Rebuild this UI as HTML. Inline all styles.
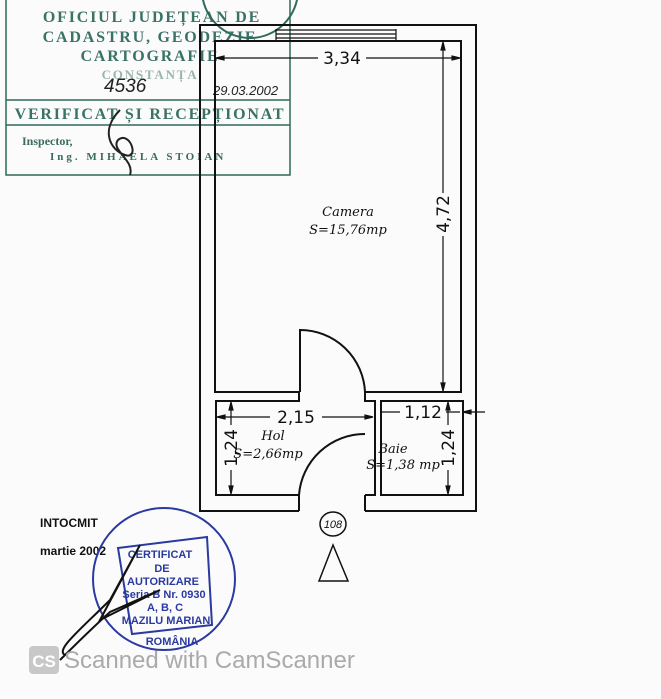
<!DOCTYPE html>
<html><head><meta charset="utf-8"><style>
html,body{margin:0;padding:0;background:#fff;width:661px;height:699px;overflow:hidden}
svg{display:block}
</style></head><body>
<svg width="661" height="699" viewBox="0 0 661 699" xmlns="http://www.w3.org/2000/svg">
<rect width="661" height="699" fill="#fbfbfb"/>
<!-- top-left stamp -->
<g stroke="#2f6a5a" fill="none" stroke-width="1.5">
<path d="M6 0 V175 H290 V0"/>
<path d="M6 100 H290 M6 125 H290"/>
</g>
<g font-family="Liberation Serif, serif" font-weight="bold" fill="#3a7266" text-anchor="middle" font-size="16" letter-spacing="1.8">
<text x="152" y="22">OFICIUL JUDEȚEAN DE</text>
<text x="150" y="42">CADASTRU, GEODEZIE</text>
<text x="150" y="61">CARTOGRAFIE</text>
<text x="150" y="79" font-size="13" opacity="0.5">CONSTANȚA</text>
<text x="150" y="119" font-size="16">VERIFICAT ȘI RECEPȚIONAT</text>
</g>
<text x="22" y="145" font-family="Liberation Serif, serif" font-weight="bold" font-size="12" fill="#3a6a60">Inspector,</text>
<text x="50" y="160" font-family="Liberation Serif, serif" font-weight="bold" font-size="11" fill="#3a6a60" letter-spacing="3">Ing. MIHAELA STOIAN</text>
<text x="104" y="92" font-family="Liberation Sans, sans-serif" font-style="italic" font-size="19" fill="#222">4536</text>
<text x="213" y="95" font-family="Liberation Sans, sans-serif" font-style="italic" font-size="13" fill="#222">29.03.2002</text>
<path d="M120 110 C100 130,110 150,125 155 C140 160,130 130,118 140 C110 150,135 160,130 175" stroke="#222" fill="none" stroke-width="2"/>
<circle cx="250" cy="-10" r="48" stroke="#2f6a5a" fill="none" stroke-width="2"/>
<!-- walls -->
<g stroke="#111" fill="none" stroke-width="2">
<path d="M299 511 H200 V25 H476 V511 H365"/>
<path d="M300 392 H215 V41 H461 V392 H365"/>
<path d="M300 392 V330 A65 65 0 0 1 365 392 V401 H375 V495 H365 M299 495 H216 V401 H299 V392"/>
<path d="M381 401 H463 V495 H381 Z"/>
<path d="M365 434 A66 66 0 0 0 299 495"/>
<path d="M299 495 V511 M365 495 V511"/>
</g>
<g stroke="#111" stroke-width="1.2">
<path d="M276 30 H396 M276 34 H396 M276 38 H396 M276 29 V41 M396 29 V41"/>
</g>
<!-- dimensions -->
<g stroke="#111" stroke-width="1.2" fill="#111">
<path d="M217 58 H318 M366 58 H458"/><path d="M216 58 l8 -2 v4z M460 58 l-8 -2 v4z"/>
<path d="M443 43 V193 M443 236 V390"/><path d="M443 42 l-2 8 h4z M443 391 l-2 -8 h4z"/>
<path d="M218 417 H270 M322 417 H372"/><path d="M217 417 l8 -2 v4z M373 417 l-8 -2 v4z"/>
<path d="M380 412 H400 M446 412 H460 M465 412 H485"/><path d="M463 412 l8 -2 v4z"/>
<path d="M231 403 V425 M231 470 V493"/><path d="M231 402 l-2 8 h4z M231 494 l-2 -8 h4z"/>
<path d="M448 403 V425 M448 470 V493"/><path d="M448 402 l-2 8 h4z M448 494 l-2 -8 h4z"/>
</g>
<g font-family="DejaVu Sans, sans-serif" font-size="17" fill="#111" text-anchor="middle">
<text x="342" y="64">3,34</text>
<text x="296" y="423">2,15</text>
<text x="423" y="418">1,12</text>
<text transform="translate(449 214) rotate(-90)">4,72</text>
<text transform="translate(237 448) rotate(-90)">1,24</text>
<text transform="translate(454 448) rotate(-90)">1,24</text>
</g>
<g font-family="DejaVu Serif, serif" font-style="italic" font-size="13" fill="#111" text-anchor="middle">
<text x="348" y="216">Camera</text>
<text x="348" y="234">S=15,76mp</text>
<text x="273" y="440">Hol</text>
<text x="268" y="458">S=2,66mp</text>
<text x="393" y="453">Baie</text>
<text x="403" y="469">S=1,38 mp</text>
</g>
<!-- marker -->
<ellipse cx="333" cy="524" rx="13" ry="12" stroke="#111" fill="none" stroke-width="1.5"/>
<text x="333" y="528" font-family="Liberation Sans, sans-serif" font-style="italic" font-size="11" text-anchor="middle" fill="#111">108</text>
<path d="M333 545 L319 581 H348 Z" stroke="#111" fill="none" stroke-width="1.5"/>
<!-- bottom stamp -->
<text x="40" y="527" font-family="Liberation Sans, sans-serif" font-weight="bold" font-size="12" fill="#111">INTOCMIT</text>
<text x="40" y="555" font-family="Liberation Sans, sans-serif" font-weight="bold" font-size="12" fill="#111">martie 2002</text>
<circle cx="164" cy="579" r="71" stroke="#2a3aa0" fill="none" stroke-width="2"/>
<path d="M118 548 L207 537 L212 625 L132 634 Z" stroke="#2a3aa0" fill="none" stroke-width="2"/>
<g font-family="Liberation Sans, sans-serif" font-weight="bold" font-size="11" fill="#2a3aa0" text-anchor="middle">
<text x="160" y="558">CERTIFICAT</text>
<text x="162" y="572">DE</text>
<text x="163" y="585">AUTORIZARE</text>
<text x="164" y="598">Seria B Nr. 0930</text>
<text x="165" y="611">A, B, C</text>
<text x="166" y="624">MAZILU MARIAN</text>
<text x="172" y="645">ROMÂNIA</text>
</g>
<path d="M65 655 C55 650,80 630,110 600 L140 545 L100 620 L160 590 L110 612 C90 630,70 650,60 660" stroke="#111" fill="none" stroke-width="2"/>
<!-- camscanner -->
<rect x="29" y="646" width="30" height="28" rx="4" fill="#c8c8c8"/>
<text x="44" y="667" font-family="Liberation Sans, sans-serif" font-weight="bold" font-size="17" fill="#fff" text-anchor="middle">CS</text>
<text x="64" y="668" font-family="Liberation Sans, sans-serif" font-size="24" fill="#aaa">Scanned with CamScanner</text>
</svg>
</body></html>
